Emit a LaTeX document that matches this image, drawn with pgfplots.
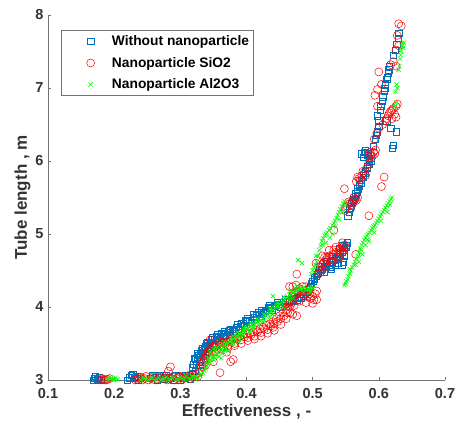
\documentclass[border=0pt]{standalone}
\usepackage{pgfplots}
\pgfplotsset{compat=1.18}
\usepackage{fontspec}
\setmainfont{Liberation Sans}

\definecolor{mblue}{rgb}{0,0.447,0.741}
\definecolor{axgray}{rgb}{0.45,0.45,0.45}

\begin{document}
\begin{tikzpicture}
\begin{axis}[
    at={(0pt,0pt)}, anchor=south west,
    scale only axis,
    width=397pt, height=365pt,
    xmin=0.1, xmax=0.7, ymin=3, ymax=8,
    axis lines=left,
    axis line style={-, axgray, line width=0.6pt},
    tick align=inside,
    major tick length=3pt,
    tick style={axgray, line width=0.5pt},
    xtick={0.1,0.2,...,0.7},
    ytick={3,4,...,8},
    /pgf/number format/assume math mode=true,
    xticklabel style={/pgf/number format/fixed, /pgf/number format/precision=1, /pgf/number format/fixed zerofill, yshift=-5pt},
    yticklabel style={xshift=-1pt},
    ticklabel style={font=\fontsize{14.5}{17}\selectfont\bfseries, text=black!80},
    xlabel={Effectiveness , -},
    ylabel={Tube length , m},
    label style={font=\fontsize{17}{20}\selectfont\bfseries, text=black!80},
    xlabel style={yshift=2pt},
    ylabel style={yshift=-2pt},
    legend style={
        at={(rel axis cs:0.033,0.959)}, anchor=north west,
        draw=axgray, line width=0.5pt,
        font=\fontsize{13.8}{16}\selectfont\bfseries,
        row sep=6pt, inner xsep=2pt, inner ysep=3.5pt,
        /tikz/every odd column/.append style={column sep=6pt},
    },
    legend image code/.code={\path (0pt,0pt) (40pt,0pt); \draw[#1, only marks] plot coordinates {(27pt,0pt)};},
    legend cell align=left,
]
\addplot[only marks, mark=square, mark size=3.1pt, color=mblue, line width=0.5pt] coordinates {
(0.168,3.00)(0.170,3.02)(0.174,3.01)(0.177,3.04)(0.180,3.00)
(0.220,3.00)(0.223,3.03)(0.226,3.06)(0.230,3.02)(0.234,3.05)(0.237,3.00)
(0.255,3.02)(0.262,3.04)(0.268,3.06)(0.275,3.01)(0.283,3.03)(0.290,3.00)(0.297,3.05)(0.305,3.02)(0.312,3.04)(0.318,3.08)(0.322,3.12)
(0.172,3.05)(0.176,3.00)(0.228,3.08)(0.232,3.04)(0.240,3.02)(0.258,3.06)(0.265,3.00)(0.272,3.04)(0.279,3.07)(0.286,3.02)
(0.293,3.06)(0.300,3.00)(0.308,3.07)(0.315,3.01)
(0.320,3.22)(0.323,3.28)(0.326,3.31)(0.328,3.25)(0.330,3.35)(0.333,3.38)(0.336,3.42)(0.338,3.46)(0.342,3.48)(0.345,3.52)
(0.348,3.50)(0.352,3.55)(0.356,3.58)(0.360,3.60)(0.364,3.57)(0.368,3.62)(0.372,3.65)(0.376,3.63)(0.380,3.67)(0.385,3.72)
(0.390,3.74)(0.395,3.78)(0.400,3.80)(0.405,3.82)(0.410,3.86)(0.415,3.88)(0.420,3.90)(0.425,3.92)(0.430,3.96)(0.436,3.98)
(0.442,4.01)(0.448,4.04)(0.455,4.06)(0.462,4.08)(0.468,4.10)(0.474,4.12)(0.480,4.13)(0.486,4.15)(0.492,4.20)(0.496,4.28)
(0.500,4.35)(0.503,4.40)(0.507,4.45)(0.511,4.48)(0.515,4.52)(0.520,4.55)(0.525,4.58)(0.530,4.62)(0.535,4.66)(0.540,4.70)
(0.545,4.75)(0.548,4.80)(0.551,4.85)(0.546,4.62)(0.538,4.60)
(0.318,3.18)(0.321,3.30)(0.324,3.20)(0.327,3.34)(0.331,3.28)(0.334,3.44)(0.338,3.36)(0.341,3.52)(0.344,3.45)(0.347,3.56)
(0.350,3.48)(0.354,3.60)(0.358,3.54)(0.362,3.64)(0.366,3.60)(0.370,3.58)(0.374,3.68)(0.378,3.70)(0.382,3.64)(0.387,3.69)
(0.392,3.77)(0.397,3.75)(0.402,3.84)(0.407,3.79)(0.412,3.83)(0.418,3.93)(0.422,3.87)(0.428,3.94)(0.433,4.00)(0.439,3.95)
(0.445,4.02)(0.451,4.00)(0.458,4.04)(0.465,4.06)(0.471,4.08)(0.477,4.10)(0.483,4.12)(0.489,4.18)(0.494,4.24)(0.498,4.32)
(0.502,4.38)(0.505,4.42)(0.509,4.47)(0.513,4.50)(0.517,4.54)(0.522,4.60)(0.527,4.55)(0.532,4.64)(0.537,4.69)(0.542,4.72)
(0.547,4.78)(0.550,4.82)(0.552,4.88)(0.544,4.58)(0.534,4.58)
(0.325,3.36)(0.332,3.40)(0.340,3.50)(0.348,3.58)(0.356,3.62)(0.366,3.66)(0.376,3.70)(0.386,3.76)(0.398,3.82)(0.410,3.90)
(0.422,3.95)(0.434,4.02)(0.446,4.06)(0.458,4.10)(0.470,4.14)(0.482,4.17)(0.330,3.20)(0.335,3.32)(0.518,4.48)(0.528,4.52)
(0.538,4.65)(0.548,4.70)(0.545,4.85)(0.540,4.80)(0.530,4.70)(0.520,4.62)(0.510,4.55)
(0.553,5.25)(0.556,5.35)(0.559,5.42)(0.562,5.48)(0.565,5.55)(0.568,5.62)(0.571,5.68)(0.574,5.74)(0.577,5.80)(0.580,5.86)
(0.583,5.92)(0.586,5.98)(0.589,6.04)(0.574,6.10)(0.578,6.12)(0.582,6.08)(0.585,6.02)(0.592,6.20)(0.595,6.30)(0.598,6.40)
(0.600,6.48)(0.598,6.62)(0.602,6.70)(0.605,6.82)(0.608,6.95)(0.610,7.05)(0.612,7.12)(0.614,7.20)(0.616,7.30)(0.622,7.45)
(0.625,7.52)(0.627,7.60)(0.629,7.68)(0.630,7.75)
(0.555,5.30)(0.558,5.38)(0.561,5.45)(0.564,5.52)(0.567,5.58)(0.570,5.65)(0.573,5.70)(0.576,5.78)(0.579,5.83)(0.582,5.90)
(0.585,5.95)(0.588,6.00)(0.576,6.05)(0.580,6.14)(0.584,6.10)(0.596,6.35)(0.600,6.55)(0.603,6.75)(0.606,6.88)(0.609,7.00)
(0.613,7.15)(0.615,7.25)
(0.620,6.18)(0.622,6.22)(0.626,6.40)(0.618,6.45)(0.612,6.55)
};
\addlegendentry{Without nanoparticle}
\addplot[only marks, mark=o, mark size=4pt, color=red, line width=0.5pt] coordinates {
(0.180,3.00)(0.184,3.01)(0.188,3.00)(0.193,3.02)(0.232,3.00)(0.238,3.03)(0.243,3.00)(0.248,3.05)(0.255,3.02)(0.262,3.00)
(0.268,3.04)(0.274,3.02)(0.280,3.00)(0.285,3.18)(0.282,3.12)(0.288,3.04)(0.294,3.02)(0.300,3.05)(0.306,3.03)(0.312,3.06)
(0.318,3.04)(0.324,3.08)(0.328,3.10)
(0.182,3.02)(0.186,3.00)(0.190,3.01)(0.235,3.01)(0.240,3.04)(0.246,3.02)(0.252,3.00)(0.258,3.04)(0.265,3.01)(0.271,3.03)
(0.277,3.05)(0.284,3.02)(0.291,3.00)(0.297,3.03)(0.303,3.01)(0.309,3.04)(0.315,3.02)(0.321,3.06)(0.326,3.04)(0.330,3.12)
(0.332,3.18)(0.334,3.25)(0.337,3.30)(0.340,3.36)(0.343,3.40)(0.346,3.44)(0.350,3.46)(0.354,3.48)(0.358,3.50)(0.362,3.52)
(0.366,3.50)(0.370,3.53)(0.375,3.55)(0.380,3.58)(0.385,3.56)(0.390,3.60)(0.395,3.62)(0.400,3.63)(0.405,3.64)(0.410,3.66)
(0.415,3.68)(0.420,3.70)(0.425,3.72)(0.430,3.75)(0.435,3.77)(0.440,3.80)(0.445,3.84)(0.450,3.88)(0.455,3.92)(0.460,3.96)
(0.463,4.02)(0.466,4.08)(0.469,4.14)(0.472,4.18)(0.476,4.22)(0.480,4.25)(0.485,4.22)(0.490,4.20)(0.495,4.18)(0.500,4.15)
(0.504,4.18)(0.508,4.45)(0.512,4.55)(0.516,4.60)(0.520,4.65)(0.525,4.70)(0.530,4.72)(0.535,4.75)(0.540,4.78)(0.545,4.82)
(0.548,4.85)(0.528,4.62)(0.518,4.68)
(0.333,3.22)(0.336,3.27)(0.339,3.33)(0.342,3.38)(0.345,3.42)(0.348,3.40)(0.352,3.45)(0.356,3.42)(0.360,3.48)(0.364,3.46)
(0.368,3.49)(0.372,3.47)(0.377,3.52)(0.382,3.50)(0.387,3.57)(0.392,3.55)(0.397,3.59)(0.402,3.58)(0.407,3.62)(0.412,3.60)
(0.417,3.66)(0.422,3.65)(0.427,3.70)(0.432,3.69)(0.437,3.74)(0.442,3.77)(0.447,3.80)(0.452,3.84)(0.457,3.88)(0.462,3.92)
(0.465,4.00)(0.468,4.05)(0.471,4.10)(0.474,4.16)(0.478,4.20)(0.482,4.18)(0.487,4.16)(0.492,4.14)(0.497,4.12)(0.502,4.10)
(0.506,4.22)(0.510,4.50)(0.514,4.58)(0.518,4.62)(0.522,4.68)(0.527,4.66)(0.532,4.78)(0.537,4.72)(0.542,4.80)(0.546,4.76)
(0.550,4.82)(0.485,4.28)(0.465,4.28)
(0.338,3.20)(0.345,3.30)(0.352,3.38)(0.362,3.42)(0.372,3.44)(0.382,3.47)(0.392,3.50)(0.402,3.54)(0.412,3.56)(0.422,3.60)
(0.432,3.64)(0.442,3.68)(0.452,3.76)(0.460,3.84)(0.466,3.92)(0.472,4.02)(0.480,4.08)(0.490,4.06)(0.500,4.05)(0.506,4.10)
(0.470,4.28)(0.475,4.30)(0.490,4.28)(0.495,4.25)(0.505,4.60)(0.515,4.70)(0.525,4.78)(0.535,4.82)(0.545,4.88)(0.520,4.55)
(0.530,4.62)(0.540,4.68)
(0.376,3.25)(0.380,3.28)(0.470,3.90)(0.476,3.88)(0.440,3.72)(0.476,4.45)(0.532,5.05)(0.565,4.72)(0.585,5.25)(0.604,5.65)
(0.608,5.78)(0.548,5.62)(0.345,3.55)(0.350,3.25)(0.360,3.10)(0.370,3.38)
(0.549,5.32)(0.552,5.38)(0.556,5.42)(0.560,5.45)(0.564,5.48)(0.568,5.50)(0.566,5.72)(0.570,5.76)(0.574,5.80)(0.578,5.84)
(0.582,5.90)(0.585,6.05)(0.588,6.08)(0.592,6.12)(0.595,6.15)(0.593,6.30)(0.597,6.38)(0.600,6.45)(0.606,6.50)(0.610,6.55)
(0.614,6.62)(0.618,6.68)(0.622,6.72)(0.626,6.75)(0.626,6.60)(0.620,6.58)(0.598,6.75)(0.594,6.90)(0.598,6.98)(0.600,7.22)
(0.604,7.05)(0.618,7.32)(0.622,7.36)(0.626,7.30)(0.626,7.52)(0.630,7.58)(0.630,7.88)(0.634,7.85)(0.628,7.72)
(0.550,5.36)(0.554,5.44)(0.558,5.40)(0.562,5.50)(0.566,5.46)(0.568,5.78)(0.572,5.74)(0.576,5.86)(0.580,5.80)(0.584,5.95)
(0.587,6.12)(0.590,6.06)(0.594,6.10)(0.612,6.58)(0.616,6.66)(0.620,6.70)(0.624,6.64)(0.628,6.78)
};
\addlegendentry{Nanoparticle SiO2}
\addplot[only marks, mark=x, mark size=3pt, color=green, line width=0.6pt] coordinates {
(0.190,3.00)(0.195,3.02)(0.200,3.00)(0.205,3.01)(0.240,3.00)(0.246,3.02)(0.252,3.00)(0.258,3.03)(0.264,3.01)(0.270,3.00)
(0.276,3.02)(0.282,3.00)(0.288,3.03)(0.294,3.01)(0.300,3.04)(0.306,3.00)(0.312,3.02)(0.318,3.05)(0.324,3.03)(0.330,3.06)
(0.192,3.03)(0.198,3.01)(0.202,3.03)(0.243,3.04)(0.249,3.01)(0.255,3.03)(0.261,3.00)(0.267,3.03)(0.273,3.01)(0.279,3.04)
(0.285,3.01)(0.291,3.04)(0.297,3.00)(0.303,3.03)(0.309,3.05)(0.315,3.01)(0.321,3.04)(0.327,3.02)(0.332,3.08)
(0.334,3.10)(0.338,3.16)(0.342,3.22)(0.346,3.28)(0.350,3.32)(0.355,3.36)(0.360,3.40)(0.365,3.45)(0.370,3.50)(0.375,3.53)
(0.380,3.56)(0.385,3.60)(0.390,3.63)(0.395,3.67)(0.400,3.70)(0.405,3.73)(0.410,3.76)(0.415,3.78)(0.420,3.81)(0.425,3.84)
(0.430,3.88)(0.435,3.92)(0.440,3.96)(0.445,4.00)(0.450,4.04)(0.455,4.08)(0.460,4.12)(0.465,4.16)(0.470,4.20)(0.475,4.22)
(0.480,4.24)(0.485,4.26)(0.490,4.25)(0.495,4.24)(0.500,4.26)(0.440,4.15)(0.478,4.64)(0.484,4.60)(0.352,3.45)(0.362,3.30)
(0.372,3.40)(0.388,3.52)(0.345,3.38)(0.380,3.60)(0.410,3.68)
(0.336,3.13)(0.340,3.19)(0.344,3.25)(0.348,3.30)(0.353,3.34)(0.357,3.38)(0.362,3.42)(0.367,3.48)(0.372,3.51)(0.377,3.54)
(0.382,3.58)(0.387,3.61)(0.392,3.65)(0.397,3.68)(0.402,3.71)(0.407,3.74)(0.412,3.77)(0.417,3.80)(0.422,3.82)(0.427,3.86)
(0.432,3.90)(0.437,3.94)(0.442,3.98)(0.447,4.02)(0.452,4.06)(0.457,4.10)(0.462,4.14)(0.467,4.18)(0.472,4.21)(0.477,4.23)
(0.482,4.25)(0.487,4.27)(0.492,4.24)(0.497,4.26)(0.358,3.32)(0.368,3.42)(0.378,3.49)(0.392,3.58)(0.405,3.66)(0.420,3.76)
(0.435,3.86)(0.450,3.98)(0.465,4.10)(0.342,3.30)(0.350,3.42)(0.360,3.48)
(0.338,3.24)(0.346,3.34)(0.356,3.44)(0.366,3.52)(0.376,3.58)(0.386,3.65)(0.396,3.72)(0.406,3.78)(0.416,3.84)(0.426,3.90)
(0.436,3.98)(0.446,4.06)(0.456,4.14)(0.466,4.22)(0.476,4.28)(0.486,4.20)(0.496,4.20)(0.350,3.28)(0.365,3.38)(0.380,3.50)
(0.395,3.62)(0.410,3.72)(0.425,3.80)(0.440,3.90)(0.455,4.00)(0.470,4.12)
(0.498,4.45)(0.502,4.55)(0.506,4.62)(0.510,4.78)(0.514,4.90)(0.518,4.98)(0.522,5.02)(0.527,5.08)(0.532,5.15)(0.536,5.22)
(0.540,5.30)(0.544,5.38)(0.548,5.45)(0.526,4.95)
(0.500,4.50)(0.504,4.58)(0.508,4.70)(0.512,4.84)(0.516,4.94)(0.520,5.00)(0.525,5.05)(0.530,5.12)(0.534,5.18)(0.538,5.26)
(0.542,5.34)(0.546,5.42)(0.505,4.70)(0.515,4.85)(0.530,5.00)(0.540,5.20)(0.545,5.30)(0.550,5.40)(0.535,5.10)(0.520,4.88)
(0.548,4.30)(0.551,4.35)(0.554,4.42)(0.558,4.50)(0.562,4.58)(0.566,4.66)(0.570,4.75)(0.574,4.85)(0.578,4.92)(0.582,4.98)
(0.586,5.02)(0.590,5.08)(0.594,5.12)(0.598,5.18)(0.602,5.24)(0.606,5.30)(0.610,5.36)(0.614,5.42)(0.618,5.48)(0.575,4.72)
(0.585,4.90)
(0.550,4.32)(0.553,4.38)(0.556,4.46)(0.560,4.54)(0.564,4.62)(0.568,4.70)(0.572,4.80)(0.576,4.88)(0.580,4.95)(0.584,5.00)
(0.588,5.05)(0.592,5.10)(0.596,5.15)(0.600,5.21)(0.604,5.27)(0.608,5.33)(0.612,5.39)(0.616,5.45)(0.620,5.50)
(0.556,4.52)(0.565,4.58)(0.573,4.78)(0.583,4.92)(0.593,5.02)(0.603,5.18)(0.613,5.30)(0.617,5.40)(0.570,4.62)(0.580,4.85)
(0.624,6.75)(0.625,6.95)(0.627,7.05)(0.630,7.25)(0.632,7.40)(0.634,7.50)(0.636,7.58)(0.638,7.62)
(0.626,6.80)(0.628,7.00)(0.631,7.30)(0.633,7.45)(0.637,7.55)(0.635,7.62)
};
\addlegendentry{Nanoparticle Al2O3}
\end{axis}
\pgfresetboundingbox
\useasboundingbox (-48pt,-53pt) rectangle (408pt,380pt);
\end{tikzpicture}
\end{document}
